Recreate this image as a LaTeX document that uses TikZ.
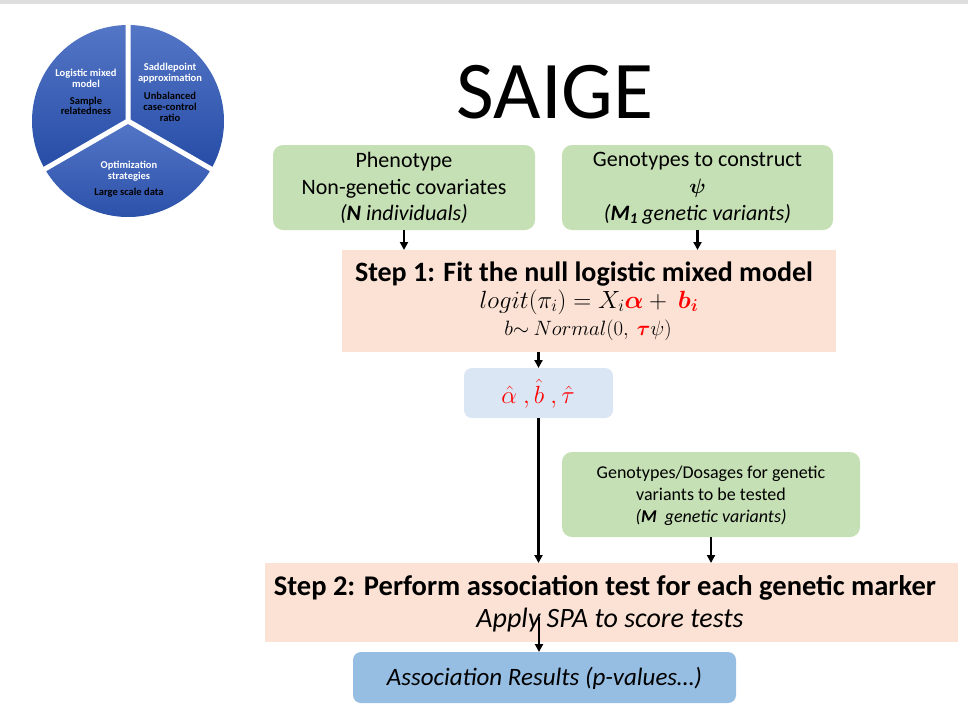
\documentclass[tikz,border=0pt]{standalone}
\usepackage{fontspec}
\setmainfont{Carlito}
\usepackage{amsmath,bm}
\usetikzlibrary{arrows.meta}
\definecolor{topgray}{RGB}{222,222,222}
\definecolor{boxgreen}{RGB}{197,224,180}
\definecolor{steppink}{RGB}{251,226,213}
\definecolor{hatblue}{RGB}{218,230,243}
\definecolor{resblue}{RGB}{150,189,226}
\definecolor{pieA}{RGB}{84,118,198}
\definecolor{pieB}{RGB}{38,76,166}
\definecolor{mred}{RGB}{255,0,0}
\newcommand{\fs}[1]{\fontsize{#1}{#1}\selectfont}
\begin{document}
\begin{tikzpicture}[x=1pt,y=-1pt,
  box/.style={inner sep=0pt, outer sep=0pt, draw=none},
  gbox/.style={box, fill=boxgreen, rounded corners=10pt},
  pbox/.style={box, fill=steppink},
  txt/.style={anchor=base, inner sep=0pt, outer sep=0pt},
  pielab/.style={txt, font=\fs{10.5}\bfseries},
  arr/.style={line width=2.3pt, -{Triangle[length=8pt,width=8pt]}}
]
\useasboundingbox (0,0) rectangle (968,715);
\fill[topgray] (0,0) rectangle (968,3.5);

% pie
\begin{scope}[shift={(128,121)}, y=1pt]
  \shade[top color=pieA, bottom color=pieB] (0,0) -- (90:96) arc[start angle=90, end angle=210, radius=96] -- cycle;
  \shade[top color=pieA, bottom color=pieB] (0,0) -- (-30:96) arc[start angle=-30, end angle=90, radius=96] -- cycle;
  \shade[top color=pieA, bottom color=pieB] (0,0) -- (210:96) arc[start angle=210, end angle=330, radius=96] -- cycle;
  \draw[white, line width=5pt] (0,0) -- (90:100) (0,0) -- (210:100) (0,0) -- (330:100);
\end{scope}
\node[pielab, white] (p1a) at (86,76) {Logistic mixed};
\node[pielab, white] (p1b) at (86,87) {model};
\node[pielab] (p1c) at (86,104) {Sample};
\node[pielab] (p1d) at (86,114) {relatedness};
\node[pielab, white] (p2a) at (170,70) {Saddlepoint};
\node[pielab, white] (p2b) at (170,81) {approximation};
\node[pielab] (p2c) at (170,99) {Unbalanced};
\node[pielab] (p2d) at (170,110) {case-control};
\node[pielab] (p2e) at (170,121) {ratio};
\node[pielab, white] (p3a) at (129,168) {Optimization};
\node[pielab, white] (p3b) at (129,179) {strategies};
\node[pielab] (p3c) at (129,195) {Large scale data};

% title
\node[txt, font=\fs{82}] (title) at (555,118) {SAIGE};

% boxes
\node[gbox, minimum width=262pt, minimum height=85pt] (pheno) at (404,187.5) {};
\node[gbox, minimum width=271pt, minimum height=85pt] (geno) at (697.5,187.5) {};
\node[pbox, minimum width=494pt, minimum height=102pt] (step1) at (589,301) {};
\node[box, fill=hatblue, rounded corners=8pt, minimum width=149pt, minimum height=50pt] (hat) at (538.5,393) {};
\node[gbox, minimum width=298pt, minimum height=85pt] (test) at (711,494.5) {};
\node[pbox, minimum width=693pt, minimum height=79pt] (step2) at (611.5,602.5) {};
\node[box, fill=resblue, rounded corners=8pt, minimum width=383pt, minimum height=51pt] (res) at (544.5,677.5) {};

% texts
\node[txt, font=\fs{22}] (ph1) at (404,167) {Phenotype};
\node[txt, font=\fs{22}] (ph2) at (404,194) {Non-genetic covariates};
\node[txt, font=\fs{22}\itshape] (ph3) at (404,220) {(\textbf{N} individuals)};
\node[txt, font=\fs{22}] (ge1) at (697.5,166) {Genotypes to construct};
\node[txt, font=\fs{22}] (ge2) at (697.5,193) {$\bm{\psi}$};
\node[txt, font=\fs{22}\itshape] (ge3) at (697.5,220) {(\textbf{M\raisebox{-0.3ex}{\fs{15}1}} genetic variants)};

\node[txt, font=\fs{28}\bfseries] (s1t) at (584,281) {Step 1: Fit the null logistic mixed model};
\node[txt, font=\fs{23.5}] (s1e) at (589,308) {$logit(\pi_i) = X_i{\color{mred}\bm{\alpha}} +\ {\color{mred}\bm{b_i}}$};
\node[txt, font=\fs{19.5}] (s1n) at (588,335) {$b{\sim}\ Normal(0,\ {\color{mred}\bm{\tau}}\psi)$};

\node[txt, font=\fs{27}, text=mred] (hatt) at (538,403) {$\hat{\alpha}\ ,\hat{b}\ ,\hat{\tau}$};

\node[txt, font=\fs{18}] (te1) at (711,478) {Genotypes/Dosages for genetic};
\node[txt, font=\fs{18}] (te2) at (711,500) {variants to be tested};
\node[txt, font=\fs{18}\itshape] (te3) at (711,522) {(\textbf{M}\ \ genetic variants)};

\node[txt, font=\fs{28.5}\bfseries] (s2t) at (605,595) {Step 2: Perform association test for each genetic marker};
\node[txt, font=\fs{28}\itshape] (s2a) at (610,627) {Apply SPA to score tests};
\node[txt, font=\fs{25}\itshape] (rest) at (544.5,685) {Association Results (p-values…)};

% connectors
\draw[arr] (pheno.south) -- (pheno.south |- step1.north);
\draw[arr] (geno.south) -- (geno.south |- step1.north);
\draw[arr] (step1.south -| hat.north) -- (hat.north);
\draw[arr] (hat.south) -- (hat.south |- step2.north);
\draw[arr] (test.south) -- (test.south |- step2.north);
\coordinate (s2out) at (539,617);
\draw[arr] (s2out) -- (s2out |- res.north);
\end{tikzpicture}
\end{document}
